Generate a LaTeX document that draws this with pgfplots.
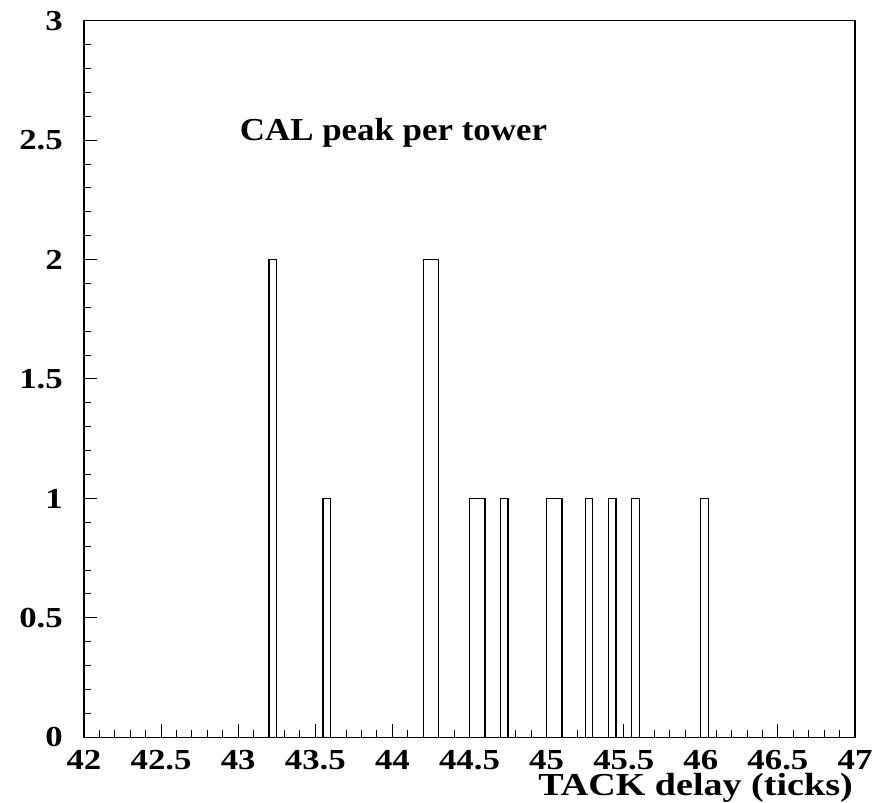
\documentclass[border=0pt]{standalone}
\usepackage{pgfplots}
\pgfplotsset{compat=1.18}
\usepackage{fontspec}
\setmainfont{Liberation Serif}
\newfontfamily\tickfont[FakeStretch=1.2]{Liberation Serif}
\newfontfamily\titlefont[FakeStretch=1.09]{Liberation Serif}
\newfontfamily\labelfont[FakeStretch=1.19]{Liberation Serif}
\begin{document}
\begin{tikzpicture}
\begin{axis}[
  name=ax,
  scale only axis,
  width=771pt, height=716.6pt,
  xmin=42, xmax=47, ymin=0, ymax=3,
  xtick={42,42.5,...,47}, minor x tick num=4,
  ytick={0,0.5,...,3}, minor y tick num=4,
  xtick pos=left, ytick pos=left,
  tick align=inside,
  axis line style={line width=1.2pt},
  every tick/.style={black, line width=1pt},
  major tick length=13pt, minor tick length=7pt,
  /pgf/number format/assume math mode=true,
  xticklabel style={font=\tickfont\fontsize{29}{29}\selectfont\bfseries, anchor=base, inner sep=0pt, yshift=-32pt},
  yticklabel style={font=\tickfont\fontsize{29}{29}\selectfont\bfseries, anchor=east, inner sep=0pt, xshift=-21pt},
  xticklabel={\pgfmathprintnumber[fixed,precision=1]{\tick}},
  yticklabel={\pgfmathprintnumber[fixed,precision=1]{\tick}},
  xlabel={TACK delay (ticks)},
  xlabel style={font=\labelfont\fontsize{32}{32}\selectfont\bfseries, at={(rel axis cs:1,0)}, anchor=base east, yshift=-57.7pt, xshift=-2pt, inner sep=0pt},
  clip=false,
]
\addplot[const plot mark left, black, line width=1.2pt] coordinates {
(42,0) (43.2,2) (43.25,0) (43.55,1) (43.6,0) (44.2,2) (44.3,0)
(44.5,1) (44.6,0) (44.7,1) (44.75,0) (45.0,1) (45.1,0)
(45.25,1) (45.3,0) (45.4,1) (45.45,0) (45.55,1) (45.6,0)
(46.0,1) (46.05,0) (47,0)
};
\node[anchor=base west, inner sep=0pt, font=\titlefont\fontsize{32}{32}\selectfont\bfseries] at (axis cs:43.01,2.50) {CAL peak per tower};
\end{axis}
\pgfresetboundingbox
\path ([xshift=-84pt,yshift=-65.7pt]ax.south west) rectangle ([xshift=31pt,yshift=20.7pt]ax.north east);
\end{tikzpicture}
\end{document}
